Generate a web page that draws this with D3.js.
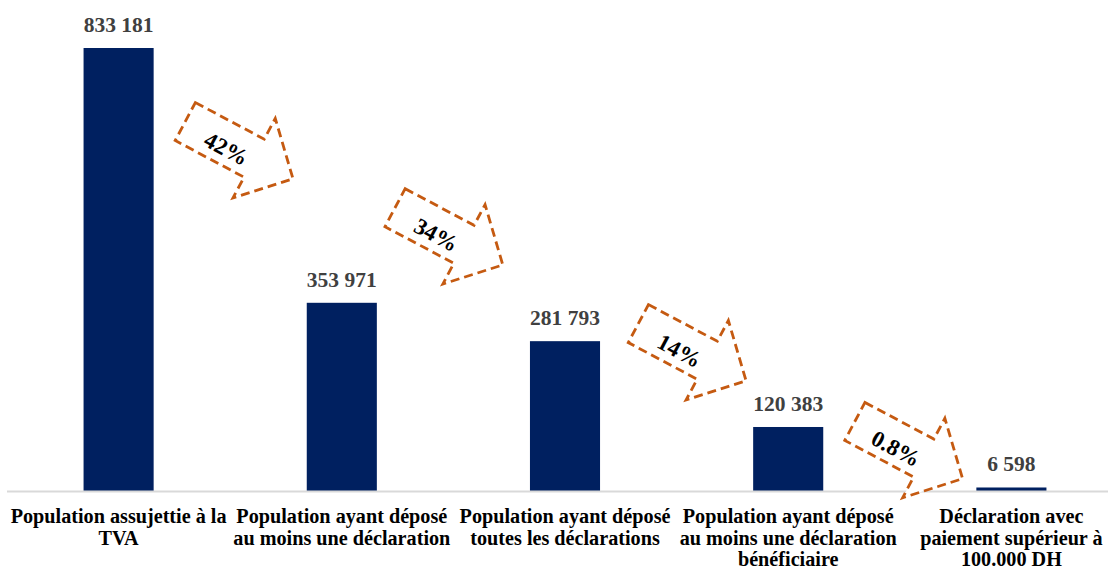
<!DOCTYPE html>
<html>
  <head>
    <meta charset="utf-8">
    <script src="https://d3js.org/d3.v7.min.js"></script>
    <style>
      body { margin: 0; background: #fff; }
      svg { display: block; }
      .val { font-family: "Liberation Serif", "Times New Roman", serif; font-weight: bold; font-size: 21.5px; fill: #404040; }
      .cat { font-family: "Liberation Serif", "Times New Roman", serif; font-weight: bold; font-size: 20.2px; fill: #000; }
      .pct { font-family: "Liberation Serif", "Times New Roman", serif; font-weight: bold; font-size: 23px; fill: #000; }
    </style>
  </head>
  <body>
    <div id="chart"></div>
    <script>
      // categories, split on the lines used in the picture
      var categories = [
        ["Population assujettie à la", "TVA"],
        ["Population ayant déposé", "au moins une déclaration"],
        ["Population ayant déposé", "toutes les déclarations"],
        ["Population ayant déposé", "au moins une déclaration", "bénéficiaire"],
        ["Déclaration avec", "paiement supérieur à", "100.000 DH"]
      ];
      var values = [833181, 353971, 281793, 120383, 6598];
      var valueLabels = ["833 181", "353 971", "281 793", "120 383", "6 598"];

      // arrows between bars: label, level (value units), place (category index units)
      var arrowLabels = ["42%", "34%", "14%", "0.8%"];
      var arrowLevels = [641000, 479000, 261000, 77000];
      var arrowPlaces = [0.54, 1.48, 2.57, 3.54];

      var width = 1108, height = 571;
      var baseY = 491, topY = 48;

      var svg = d3.select("#chart").append("svg")
        .attr("width", width)
        .attr("height", height);

      var x = d3.scaleBand()
        .domain(d3.range(values.length))
        .range([7, 1123])
        .paddingInner(0.686)
        .paddingOuter(0.343);

      // continuous position along the category axis (bar centres at integers)
      var xc = d3.scaleLinear()
        .domain([0, values.length - 1])
        .range([x(0) + x.bandwidth() / 2, x(values.length - 1) + x.bandwidth() / 2]);

      var y = d3.scaleLinear()
        .domain([0, d3.max(values)])
        .range([baseY, topY]);

      // bars
      svg.selectAll(".bar")
        .data(values)
        .enter().append("rect")
          .attr("class", "bar")
          .attr("x", function(d, i) { return x(i); })
          .attr("y", function(d) { return y(d); })
          .attr("width", x.bandwidth())
          .attr("height", function(d) { return baseY - y(d); })
          .attr("fill", "#002060");

      // axis line
      svg.append("line")
        .attr("x1", 7).attr("x2", width)
        .attr("y1", baseY + 0.5).attr("y2", baseY + 0.5)
        .attr("stroke", "#d9d9d9")
        .attr("stroke-width", 2);

      // value labels
      svg.selectAll(".val")
        .data(values)
        .enter().append("text")
          .attr("class", "val")
          .attr("x", function(d, i) { return xc(i); })
          .attr("y", function(d) { return y(d) - 16; })
          .attr("text-anchor", "middle")
          .text(function(d, i) { return valueLabels[i]; });

      // category labels
      var cat = svg.selectAll(".cat")
        .data(categories)
        .enter().append("text")
          .attr("class", "cat")
          .attr("text-anchor", "middle")
          .attr("transform", function(d, i) {
            return "translate(" + xc(i) + "," + 523 + ")";
          });
      cat.selectAll("tspan")
        .data(function(d) { return d; })
        .enter().append("tspan")
          .attr("x", 0)
          .attr("y", function(d, i) { return i * 21.5; })
          .text(function(d) { return d; });

      // dashed arrows
      var angle = 28;
      var arrowPath = "M-61,-21.5 L17,-21.5 L17,-45 L61,0 L17,45 L17,21.5 L-61,21.5 Z";

      var arrows = svg.selectAll(".arrow")
        .data(arrowLabels)
        .enter().append("g")
          .attr("class", "arrow")
          .attr("transform", function(d, i) {
            return "translate(" + xc(arrowPlaces[i]) + "," + y(arrowLevels[i]) + ") rotate(" + angle + ")";
          });

      arrows.append("path")
        .attr("d", arrowPath)
        .attr("fill", "#fff")
        .attr("stroke", "#c55a11")
        .attr("stroke-width", 2.8)
        .attr("stroke-dasharray", "9,5");

      arrows.append("text")
        .attr("class", "pct")
        .attr("x", -12)
        .attr("y", 5)
        .attr("text-anchor", "middle")
        .attr("dominant-baseline", "central")
        .text(function(d) { return d; });
    </script>
  </body>
</html>
